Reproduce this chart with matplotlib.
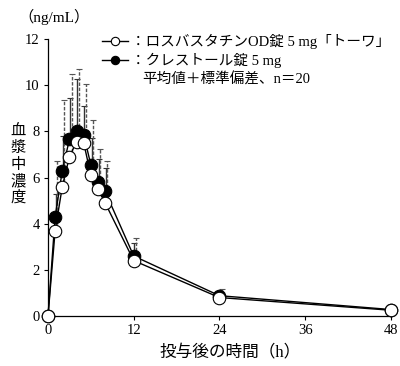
import matplotlib
matplotlib.use("Agg")
import matplotlib.pyplot as plt
from matplotlib.lines import Line2D

plt.rcParams['font.family'] = ['Liberation Serif', 'Noto Sans CJK JP', 'DejaVu Sans']

# time after dose (h)
hours = [0, 1, 2, 3, 4, 5, 6, 7, 8, 12, 24, 48]

# ロスバスタチンOD錠 5 mg「トーワ」 (open circles)
od_mean = [0, 3.7, 5.6, 6.9, 7.55, 7.5, 6.1, 5.5, 4.9, 2.4, 0.8, 0.25]
od_top = [0, 6.7, 9.36, 10.5, 10.69, 10.05, 8.49, 7.24, 6.73, 3.38, 1.17, 0.35]

# クレストール錠 5 mg (filled circles)
cr_mean = [0, 4.3, 6.3, 7.65, 8.0, 7.85, 6.55, 5.8, 5.4, 2.6, 0.88, 0.28]
cr_top = [0, 5.3, 7.8, 9.43, 10.25, 9.1, 7.7, 6.8, 6.4, 3.16, 1.0, 0.32]

xticks = [0, 12, 24, 36, 48]
yticks = [0, 2, 4, 6, 8, 10, 12]

fig = plt.figure(figsize=(4.0, 3.66), dpi=100)
ax = fig.add_axes([0.12, 0.1366, 0.857, 0.7568])

# upper SD bars: solid for クレストール, dashed grey for OD
od_err = [t - m for t, m in zip(od_top, od_mean)]
cr_err = [t - m for t, m in zip(cr_top, cr_mean)]
ax.errorbar([h + 0.1 for h in hours], cr_mean, yerr=[[0] * len(hours), cr_err],
            fmt='none', ecolor='#333333', elinewidth=1.0, capsize=2, capthick=0.8, zorder=1)
eb = ax.errorbar([h + 0.3 for h in hours], od_mean, yerr=[[0] * len(hours), od_err],
                 fmt='none', ecolor='#555555', elinewidth=1.0, capsize=2, capthick=0.8, zorder=1)
eb[2][0].set_linestyle((0, (2.5, 1.2)))

ax.plot(hours, cr_mean, color='black', lw=1.0, marker='o', ms=9,
        mfc='black', mec='black', mew=0.8, clip_on=False, zorder=3)
ax.plot(hours, od_mean, color='black', lw=1.0, marker='o', ms=9,
        mfc='white', mec='black', mew=0.8, clip_on=False, zorder=4)

ax.set_xlim(0, 48)
ax.set_ylim(0, 12)
ax.set_xticks(xticks)
ax.set_yticks(yticks)
ax.tick_params(direction='out', length=3, width=0.8, labelsize=10.5, pad=3)
for s in ['top', 'right']:
    ax.spines[s].set_visible(False)
for s in ['left', 'bottom']:
    ax.spines[s].set_linewidth(0.9)

fig.text(0.045, 0.955, '（ng/mL）', fontsize=11, va='center', ha='left')
# vertical y label, one character per row
for i, ch in enumerate('血漿中濃度'):
    fig.text(0.045, 0.64 - i * 0.045, ch, fontsize=11, va='center', ha='center')
fig.text(0.575, 0.035, '投与後の時間（h）', fontsize=12, va='center', ha='center')

handles = [
    Line2D([], [], color='black', lw=1.0, marker='o', ms=6, mfc='white', mec='black', mew=0.8),
    Line2D([], [], color='black', lw=1.0, marker='o', ms=6, mfc='black', mec='black', mew=0.8),
]
labels = ['：ロスバスタチンOD錠 5 mg「トーワ」', '：クレストール錠 5 mg']
ax.legend(handles, labels, loc='upper left', bbox_to_anchor=(0.14, 1.04),
          frameon=False, fontsize=10.5, handlelength=1.8, handletextpad=0.2,
          labelspacing=0.3, borderaxespad=0)
fig.text(0.355, 0.782, '平均値＋標準偏差、n＝20', fontsize=10.5, va='center', ha='left')

fig.savefig('out.png', dpi=100)
